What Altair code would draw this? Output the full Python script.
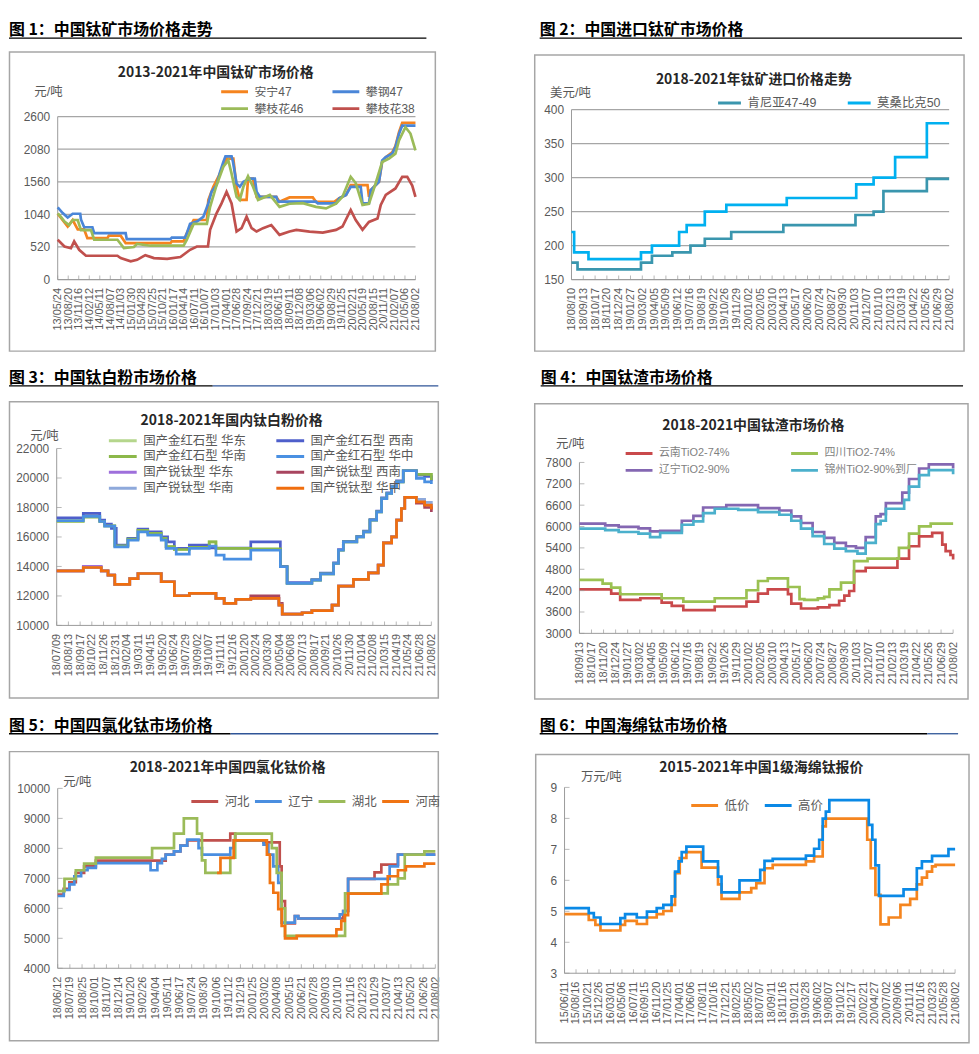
import altair as alt
import pandas as pd

FONT = "Liberation Sans, Noto Sans CJK SC, sans-serif"
HFONT = "Noto Sans CJK SC"
TXT = "#595959"
AX = "#9a9a9a"
BOX = "#a6a6a6"

# ---------------- Panel 1 ----------------
p1_labels = ["13/05/24", "13/08/20", "13/11/16", "14/02/12", "14/05/11", "14/08/07", "14/11/03", "15/01/30",
             "15/04/28", "15/07/25", "15/10/21", "16/01/17", "16/04/14", "16/07/11", "16/10/07", "17/01/03",
             "17/04/01", "17/06/28", "17/09/24", "17/12/21", "18/03/19", "18/06/15", "18/09/11", "18/12/08",
             "19/03/06", "19/06/02", "19/08/29", "19/11/25", "20/02/21", "20/05/19", "20/08/15", "20/11/11",
             "21/02/07", "21/05/06", "21/08/02"]
p1_names = ["安宁47", "攀钢47", "攀枝花46", "攀枝花38"]
p1_colors = ["#F5841F", "#4A86D8", "#9BBB59", "#C0504D"]
p1_anning_x = [0, 2.8, 4.2, 5.6, 7.4, 8.3, 13.9, 14.3, 17.6, 19, 31.5, 31.9, 35.2, 36.1, 38, 41.7, 42.1, 43.5,
               45, 47.2, 49.1, 50, 50.9, 52.8, 53.2, 54.6, 55.6, 61.1, 62, 64.8, 71.3, 72.2, 77.3, 78.7, 80.6,
               81.9, 86.6, 87, 87.5, 89.8, 90.7, 91.7, 93.5, 94.4, 95.4, 96.3, 100]
p1_anning_y = [1050, 845, 950, 800, 800, 660, 660, 700, 700, 580, 580, 610, 610, 740, 950, 950, 1270, 1480,
               1650, 1930, 1930, 1480, 1270, 1270, 1610, 1610, 1320, 1320, 1240, 1310, 1310, 1240, 1240, 1300,
               1350, 1506, 1506, 1320, 1427, 1560, 1880, 1950, 2030, 2130, 2350, 2500, 2500]
p1_pangang_x = [0, 1.4, 2.8, 4.2, 6.3, 6.5, 7.4, 9.7, 10.2, 19, 19.3, 31.5, 31.9, 35.6, 36.1, 37, 38.9, 40.7,
                42.1, 43, 44.4, 45.4, 46.3, 46.9, 48.6, 49, 50, 50.9, 51.9, 53.7, 55.1, 55.6, 56.5, 61.1, 61.6,
                72.2, 72.7, 77.8, 78.7, 80.6, 81.9, 84.7, 85.2, 87, 87.5, 89.8, 90.7, 91.7, 93.5, 94.4, 95.4,
                96.3, 100]
p1_pangang_y = [1150, 1060, 990, 1050, 1050, 960, 835, 835, 740, 740, 645, 645, 670, 670, 740, 888, 925, 1000,
                1215, 1400, 1506, 1717, 1876, 1966, 1966, 1880, 1530, 1480, 1560, 1610, 1610, 1400, 1320, 1320,
                1242, 1242, 1215, 1215, 1295, 1350, 1480, 1480, 1215, 1215, 1427, 1560, 1900, 1955, 2008, 2114,
                2325, 2457, 2457]
p1_pzh46_x = [0, 0.9, 1.9, 3.2, 4.2, 5.6, 6.5, 9.3, 10.2, 16.7, 18.5, 21.3, 22.2, 25.9, 35.2, 36.1, 38, 41.7,
              42.6, 44.4, 46.3, 47.7, 48.6, 50, 50.9, 51.9, 53.2, 54.6, 56, 59.3, 62, 64.8, 68.5, 72.2, 75, 77.8,
              79.6, 81.9, 83.3, 85.2, 87, 88.9, 90.7, 92.6, 94.4, 95.4, 97.2, 98.6, 100]
p1_pzh46_y = [1057, 1000, 925, 870, 950, 950, 790, 790, 635, 635, 502, 520, 570, 540, 540, 635, 888, 888, 1160,
              1506, 1800, 1900, 1690, 1320, 1270, 1480, 1650, 1480, 1270, 1350, 1160, 1210, 1220, 1160, 1136,
              1210, 1320, 1640, 1540, 1190, 1210, 1540, 1876, 1930, 2008, 2220, 2430, 2330, 2060]
p1_pzh38_x = [0, 1.9, 3.7, 4.6, 6, 7.9, 16.7, 17.6, 20.4, 22.2, 24.5, 26.9, 30.6, 34.3, 37, 38.9, 42, 42.6,
              44.4, 45.8, 47.2, 48.6, 50, 51.4, 52.8, 54.2, 55.6, 57.4, 59.7, 62, 64.8, 66.7, 70.4, 74.1, 77.8,
              79.6, 81.9, 83.3, 85.2, 87, 89.4, 90.3, 91.7, 94.4, 96.3, 97.7, 99.1, 100]
p1_pzh38_y = [634, 528, 500, 610, 475, 380, 380, 343, 290, 315, 390, 343, 330, 360, 475, 528, 528, 793, 1057,
              1215, 1400, 1215, 766, 820, 1004, 820, 766, 820, 870, 713, 766, 793, 766, 750, 793, 846, 1110, 950,
              793, 920, 975, 1190, 1350, 1453, 1638, 1638, 1500, 1320]

# ---------------- Panel 2 ----------------
p2_labels = ["18/08/10", "18/09/13", "18/10/17", "18/11/20", "18/12/24", "19/01/27", "19/03/02", "19/04/05",
             "19/05/09", "19/06/12", "19/07/16", "19/08/19", "19/09/22", "19/10/26", "19/11/29", "20/01/02",
             "20/02/05", "20/03/10", "20/04/13", "20/05/17", "20/06/20", "20/07/24", "20/08/27", "20/09/30",
             "20/11/03", "20/12/07", "21/01/10", "21/02/13", "21/03/19", "21/04/22", "21/05/26", "21/06/29",
             "21/08/02"]
p2_names = ["肯尼亚47-49", "莫桑比克50"]
p2_colors = ["#3A96AE", "#00B0F0"]
p2_kenya_x = [0, 1.6, 18.4, 21.3, 26.7, 31.5, 35.3, 42.3, 56.1, 75.2, 80, 82.6, 94.1, 100]
p2_kenya_y = [175, 165, 175, 185, 190, 200, 210, 220, 230, 245, 250, 280, 298, 298]
p2_moz_x = [0, 0.7, 4.5, 18.4, 21.3, 28.5, 30.5, 35.3, 41, 57, 75.4, 80, 85.7, 94.1, 100]
p2_moz_y = [220, 190, 180, 190, 200, 220, 230, 250, 260, 270, 290, 300, 330, 380, 380]

# ---------------- Panel 3 ----------------
p3_labels = ["18/07/09", "18/08/13", "18/09/17", "18/10/22", "18/11/26", "18/12/31", "19/02/04", "19/03/11",
             "19/04/15", "19/05/20", "19/06/24", "19/07/29", "19/09/02", "19/10/07", "19/11/11", "19/12/16",
             "20/01/20", "20/02/24", "20/03/30", "20/05/04", "20/06/08", "20/07/13", "20/08/17", "20/09/21",
             "20/10/26", "20/11/30", "21/01/04", "21/02/08", "21/03/15", "21/04/19", "21/05/24", "21/06/28",
             "21/08/02"]
p3_names = ["国产金红石型 华东", "国产金红石型 西南", "国产金红石型 华南", "国产金红石型 华中",
            "国产锐钛型 华东", "国产锐钛型 西南", "国产锐钛型 华南", "国产锐钛型 华中"]
p3_colors = ["#B5D68C", "#4E5FCB", "#8CB84A", "#4A90E2", "#9E6FDB", "#A8455F", "#8EA9DB", "#F06E0E"]
p3_rut_x = [0, 7.1, 11.5, 12.8, 15.5, 19, 21.7, 24.3, 27.9, 29.2, 31.4, 35.4, 40.7, 42.5, 51.8, 59.7, 61.5,
            68.1, 70.4, 73.9, 75.2, 76.5, 80.1, 81.9, 83.6, 85.4, 86.7, 88.1, 89.4, 90.7, 92.5, 96, 99.3, 100]
p3_rut_huadong_y = [17150, 17450, 17050, 16750, 15400, 15850, 16450, 16250, 15900, 15350, 15150, 15300, 15670,
                    15220, 15150, 13980, 12850, 13070, 13500, 14200, 15100, 15670, 16000, 16350, 17140, 17700,
                    18600, 18950, 19400, 19740, 20490, 20250, 20250, 19850]
p3_rut_huanan_y = [17050, 17350, 17050, 16750, 15400, 15850, 16450, 16250, 15900, 15350, 15150, 15300, 15670,
                   15220, 15200, 13980, 12850, 13070, 13500, 14200, 15100, 15670, 16000, 16350, 17140, 17700,
                   18600, 18950, 19400, 19740, 20490, 20250, 20250, 19850]
p3_rut_xinan_x = [0, 7.1, 11.5, 12.8, 14.6, 15.9, 19, 21.7, 24.3, 27.9, 29.6, 31.4, 35.4, 40.7, 51.8, 59.7,
                  61.5, 68.1, 70.4, 73.9, 75.2, 76.5, 80.1, 81.9, 83.6, 85.4, 86.7, 88.1, 89.4, 90.7, 92.5, 96,
                  98.2, 100]
p3_rut_xinan_y = [17300, 17600, 17140, 16870, 16580, 15450, 15900, 16530, 16350, 16000, 15670, 15220, 15450,
                  15250, 15670, 14000, 12900, 13100, 13550, 14250, 15150, 15700, 16050, 16400, 17180, 17750,
                  18650, 19000, 19450, 19800, 20500, 20200, 20100, 19800]
p3_rut_huazhong_x = [0, 7.1, 11.5, 12.8, 15.5, 19, 21.7, 24.3, 27.9, 29.2, 31.9, 35.4, 40.7, 42.5, 44.7, 51.8,
                     59.7, 61.5, 68.1, 70.4, 73.9, 75.2, 76.5, 80.1, 81.9, 83.6, 85.4, 86.7, 88.1, 89.4, 90.7,
                     92.5, 96, 98.2, 100]
p3_rut_huazhong_y = [17100, 17400, 17050, 16730, 15330, 15780, 16350, 16120, 15780, 15220, 14830, 15220, 15380,
                     14770, 14500, 15100, 13980, 12850, 13070, 13500, 14200, 15100, 15670, 16000, 16350, 17140,
                     17700, 18600, 18950, 19400, 19740, 20490, 19970, 19740, 19600]
p3_ana_x = [0, 7.1, 11.9, 13.7, 15.5, 19.5, 21.7, 27.9, 31.4, 35.4, 42.5, 44.7, 47.8, 51.8, 59.3, 60.2, 65.5,
            68.1, 73.5, 75.2, 79.2, 83.2, 85.8, 87.2, 89.4, 90.7, 92, 92.9, 96, 98.2, 100]
p3_ana_huadong_y = [13700, 14000, 13700, 13410, 12780, 13180, 13520, 12960, 12010, 12170, 11830, 11490, 11760,
                    11830, 11380, 10770, 10860, 11000, 11380, 12670, 13120, 13570, 14090, 15600, 16000, 17140,
                    17930, 18680, 18380, 18160, 17860]
p3_ana_xinan_y = [13700, 13930, 13700, 13410, 12780, 13180, 13520, 12960, 12010, 12170, 11830, 11490, 11760,
                  12000, 11500, 10770, 10860, 11000, 11380, 12670, 13120, 13570, 14090, 15600, 16000, 17140,
                  17930, 18680, 18300, 18000, 17700]
p3_ana_huanan_y = [13700, 13930, 13700, 13410, 12780, 13180, 13520, 12960, 12010, 12170, 11830, 11490, 11760,
                   11830, 11380, 10770, 10860, 11000, 11380, 12670, 13120, 13570, 14090, 15600, 16000, 17140,
                   17930, 18680, 18550, 18350, 18100]
p3_ana_huazhong_y = [13700, 13930, 13700, 13410, 12780, 13180, 13520, 12960, 12010, 12170, 11830, 11490, 11760,
                     11830, 11380, 10770, 10860, 11000, 11380, 12670, 13120, 13570, 14090, 15600, 16000, 17140,
                     17930, 18680, 18380, 18160, 17860]

# ---------------- Panel 4 ----------------
p4_labels = ["18/09/13", "18/10/17", "18/11/20", "18/12/24", "19/01/27", "19/03/02", "19/04/05", "19/05/09",
             "19/06/12", "19/07/16", "19/08/19", "19/09/22", "19/10/26", "19/11/29", "20/01/02", "20/02/05",
             "20/03/10", "20/04/13", "20/05/17", "20/06/20", "20/07/24", "20/08/27", "20/09/30", "20/11/03",
             "20/12/07", "21/01/10", "21/02/13", "21/03/19", "21/04/22", "21/05/26", "21/06/29", "21/08/02"]
p4_names = ["云南TiO2-74%", "四川TiO2-74%", "辽宁TiO2-90%", "锦州TiO2-90%到厂"]
p4_colors = ["#C9494B", "#9BC152", "#8467B2", "#4BB0CC"]
p4_yunnan_x = [0, 8.5, 10.9, 16.3, 22, 24.7, 27.8, 36.2, 44.7, 47.8, 50.4, 55.8, 56.7, 59.3, 63.8, 66.9, 69.5,
               70.9, 72.2, 73.5, 76.6, 85.1, 88.2, 90.9, 94.4, 97.1, 98, 99.3, 100]
p4_yunnan_y = [4237, 4116, 3940, 3986, 3865, 3772, 3650, 3754, 3893, 4116, 4237, 4100, 3837, 3698, 3730, 3795,
               3916, 4060, 4190, 4749, 4842, 5100, 5447, 5726, 5820, 5493, 5307, 5200, 5075]
p4_sichuan_x = [0, 6.2, 8.5, 10.9, 22, 27.8, 36.2, 44.7, 47.8, 50.4, 55.8, 58.9, 60.2, 63.8, 65.5, 66.9, 70,
                73.5, 77.1, 85.5, 88.2, 90.9, 94, 100]
p4_sichuan_y = [4500, 4395, 4283, 4098, 3986, 3893, 3986, 4210, 4470, 4544, 4302, 3960, 3940, 3980, 4023, 4237,
                4423, 5028, 5100, 5400, 5800, 6005, 6080, 6080]
p4_liaoning_x = [0, 6.9, 10.5, 15.8, 18.9, 21.6, 27.4, 30.5, 33.1, 39.3, 47.8, 53.5, 56.7, 59.3, 62.4, 65.5,
                 68.2, 71.3, 74, 76.6, 79.3, 80.6, 82, 86.4, 88.2, 90.9, 93.5, 99.3, 100]
p4_liaoning_y = [6080, 6033, 5990, 5950, 5865, 5880, 6163, 6300, 6535, 6600, 6517, 6450, 6284, 6100, 5847, 5680,
                 5540, 5447, 5400, 5700, 6284, 6350, 6656, 6950, 7335, 7630, 7745, 7745, 7630]
p4_jinzhou_x = [0, 6.9, 10.5, 15.8, 18.9, 21.6, 27.4, 30.5, 33.1, 36.2, 42.5, 47.8, 53.5, 56.7, 59.3, 62.4,
                65.5, 68.2, 71.3, 74.4, 76.6, 79.3, 80.6, 82, 86.9, 88.2, 90.9, 93.5, 99.3, 100]
p4_jinzhou_y = [5940, 5900, 5847, 5800, 5700, 5820, 6050, 6145, 6377, 6500, 6470, 6405, 6330, 6163, 5940, 5730,
                5510, 5380, 5307, 5240, 5540, 6070, 6163, 6500, 6750, 7120, 7446, 7585, 7585, 7465]

# ---------------- Panel 5 ----------------
p5_labels = ["18/06/12", "18/07/19", "18/08/25", "18/10/01", "18/11/07", "18/12/14", "19/01/20", "19/02/26",
             "19/04/04", "19/05/11", "19/06/17", "19/07/24", "19/08/30", "19/10/06", "19/11/12", "19/12/19",
             "20/01/25", "20/03/02", "20/04/08", "20/05/15", "20/06/21", "20/07/28", "20/09/03", "20/10/10",
             "20/11/16", "20/12/23", "21/01/29", "21/03/07", "21/04/13", "21/05/20", "21/06/26", "21/08/02"]
p5_names = ["河北", "辽宁", "湖北", "河南"]
p5_colors = ["#C0504D", "#4A8EE0", "#9BBB59", "#F07413"]
p5_hebei_x = [0, 1.6, 3.1, 4.8, 7, 10.1, 28.6, 30.8, 32.5, 34.3, 45.7, 47, 54.5, 58.8, 59.3, 60.2, 62.8, 63.7,
              75.6, 76.9, 83.9, 85.7, 90.1, 100]
p5_hebei_y = [6460, 6650, 6870, 7180, 7400, 7590, 7790, 7900, 8090, 8265, 8490, 8265, 8200, 7400, 6240, 5500,
              5740, 5660, 5910, 6980, 7200, 7460, 7790, 7790]
p5_liaoning_x = [0, 1.6, 3.1, 4.4, 6.2, 7.9, 10.1, 24.6, 26.4, 27.6, 28.6, 30.8, 32.5, 34.3, 37.3, 38.2, 45.7,
                 46.6, 54.5, 55.8, 57.1, 58.4, 59.3, 62.8, 63.7, 74.7, 75.6, 76.9, 87.9, 90.1, 100]
p5_liaoning_y = [6410, 6610, 6800, 7070, 7270, 7350, 7510, 7270, 7510, 7650, 7790, 7900, 8090, 8290, 8010, 7790,
                 8010, 8265, 8120, 7790, 7400, 6850, 5520, 5740, 5660, 5800, 5910, 6980, 7400, 7790, 7790]
p5_hubei_x = [0, 1.8, 4.8, 7, 10.1, 25, 30.8, 33.4, 36.9, 38.2, 39.1, 45.7, 47, 56.7, 58, 59.3, 60.2, 76.1,
              87.4, 90.1, 91.9, 97.1, 100]
p5_hubei_y = [6575, 6980, 7270, 7490, 7690, 8010, 8490, 9000, 8490, 7600, 7180, 7690, 8490, 8010, 7180, 6000,
              5080, 6500, 6800, 7000, 7790, 7900, 7900]
p5_henan_x = [42.2, 43.1, 46.6, 55.4, 56.2, 57.1, 58.4, 59.3, 60.2, 63.3, 73.8, 75.1, 76, 76.9, 85.7, 87.4,
              90.1, 92.2, 97.1, 100]
p5_henan_y = [7180, 7680, 8265, 7790, 6850, 6520, 5970, 5410, 5000, 5080, 5300, 5580, 5770, 6490, 6800, 7070,
              7270, 7400, 7490, 7490]

# ---------------- Panel 6 ----------------
p6_labels = ["15/06/11", "15/08/16", "15/10/21", "15/12/26", "16/03/01", "16/05/06", "16/07/11", "16/09/15",
             "16/11/20", "17/01/25", "17/04/01", "17/06/06", "17/08/11", "17/10/16", "17/12/21", "18/02/25",
             "18/05/02", "18/07/07", "18/09/11", "18/11/16", "19/01/21", "19/03/28", "19/06/02", "19/08/07",
             "19/10/12", "19/12/17", "20/02/21", "20/04/27", "20/07/02", "20/09/06", "20/11/11", "21/01/16",
             "21/03/23", "21/05/28", "21/08/02"]
p6_names = ["低价", "高价"]
p6_colors = ["#F5851F", "#0A89E6"]
p6_low_x = [0, 6.2, 7.9, 9.2, 14.3, 15.5, 18.5, 21.1, 23.6, 25.3, 27.4, 28.3, 29.5, 31.2, 35.1, 39.3, 40.2,
            44.8, 47.8, 49.1, 51.2, 53.3, 61.8, 63.9, 66.1, 66.9, 77.5, 78.4, 79.6, 80.9, 83, 86, 88.5, 90.2,
            91.5, 92.8, 94.1, 95, 100]
p6_low_y = [4.91, 4.72, 4.56, 4.38, 4.56, 4.69, 4.59, 4.80, 4.91, 5.01, 5.21, 6.23, 6.72, 6.91, 6.41, 5.87,
            5.40, 5.61, 5.75, 5.91, 6.39, 6.50, 6.61, 6.77, 7.74, 7.99, 7.31, 6.39, 5.53, 4.58, 4.80, 5.21, 5.40,
            5.87, 6.09, 6.28, 6.45, 6.50, 6.50]
p6_high_x = [0, 6.2, 7.5, 9.2, 14.3, 15.5, 18.5, 21.1, 23.6, 25.3, 27.4, 28.3, 29.2, 30, 31.2, 35.5, 39.3, 40.2,
             44.8, 50.1, 51.2, 53.3, 61.8, 63.9, 65.2, 66.1, 66.9, 67.8, 77.9, 78.8, 79.6, 80.5, 86.8, 90.2,
             91.5, 94.1, 98.3, 100]
p6_high_y = [5.10, 4.94, 4.80, 4.59, 4.78, 4.91, 4.80, 4.99, 5.10, 5.21, 5.48, 6.28, 6.61, 6.91, 7.09, 6.61,
             6.12, 5.61, 6.00, 6.34, 6.63, 6.69, 6.80, 7.02, 7.31, 7.99, 8.22, 8.59, 7.79, 7.31, 6.48, 5.50, 5.71,
             6.39, 6.61, 6.79, 7.01, 7.01]

# cell sizes (each panel is drawn in a fixed cell; the plot sits inside it)
CW = [433, 440]
RH = [350, 350, 346]

PANELS = [
    dict(cell=(0, 0), plot=(49, 106, 360, 164), labels=p1_labels, names=p1_names, colors=p1_colors,
         interp="linear",
         series=[(p1_anning_x, p1_anning_y), (p1_pangang_x, p1_pangang_y),
                 (p1_pzh46_x, p1_pzh46_y), (p1_pzh38_x, p1_pzh38_y)],
         yticks=[0, 520, 1040, 1560, 2080, 2600], grid=True, yticks_in=False,
         box=(0.5, 41, 429, 342), head=("图 1：中国钛矿市场价格走势", 0, 24),
         ul=[(0, 420, "black")], ul_y=27,
         title=("2013-2021年中国钛矿市场价格", 208, 62), unit=("元/吨", -24, 81),
         leg=dict(x=212, y=75, cols=2, cp=27, rp=5, sym=27, fs=12, lc=TXT)),
    dict(cell=(1, 0), plot=(38, 99, 380, 171), labels=p2_labels, names=p2_names, colors=p2_colors,
         interp="step-after",
         series=[(p2_kenya_x, p2_kenya_y), (p2_moz_x, p2_moz_y)],
         yticks=[150, 200, 250, 300, 350, 400], grid=True, yticks_in=False,
         box=(1, 44, 433, 342), head=("图 2：中国进口钛矿市场价格", 6, 24),
         ul=[(6, 431, "black")], ul_y=27,
         title=("2018-2021年钛矿进口价格走势", 221.5, 69), unit=("美元/吨", -22, 82),
         leg=dict(x=184, y=86, cols=2, cp=29.5, rp=5, sym=23, fs=12.5, lc=TXT)),
    dict(cell=(0, 1), plot=(48, 90, 377, 178), labels=p3_labels, names=p3_names, colors=p3_colors,
         interp="step-after",
         series=[(p3_rut_x, p3_rut_huadong_y), (p3_rut_xinan_x, p3_rut_xinan_y),
                 (p3_rut_x, p3_rut_huanan_y), (p3_rut_huazhong_x, p3_rut_huazhong_y),
                 (p3_ana_x, p3_ana_huadong_y), (p3_ana_x, p3_ana_xinan_y),
                 (p3_ana_x, p3_ana_huanan_y), (p3_ana_x, p3_ana_huazhong_y)],
         yticks=[10000, 12000, 14000, 16000, 18000, 20000, 22000], grid=False, yticks_in=True,
         box=(0.5, 43, 432, 341), head=("图 3：中国钛白粉市场价格", 0, 24),
         ul=[(0, 205, "black"), (205, 432, "#2F5597")], ul_y=27,
         title=("2018-2021年国内钛白粉价格", 224, 62), unit=("元/吨", -27, 77),
         leg=dict(x=99, y=76, cols=2, cp=28.5, rp=3, sym=28, fs=12.5, lc=TXT)),
    dict(cell=(1, 1), plot=(46, 104, 376, 172), labels=p4_labels, names=p4_names, colors=p4_colors,
         interp="step-after",
         series=[(p4_yunnan_x, p4_yunnan_y), (p4_sichuan_x, p4_sichuan_y),
                 (p4_liaoning_x, p4_liaoning_y), (p4_jinzhou_x, p4_jinzhou_y)],
         yticks=[3000, 3600, 4200, 4800, 5400, 6000, 6600, 7200, 7800], grid=False, yticks_in=True,
         box=(1, 45, 437, 342), head=("图 4：中国钛渣市场价格", 7, 24),
         ul=[(7, 432, "black")], ul_y=27,
         title=("2018-2021中国钛渣市场价格", 221, 67), unit=("元/吨", -24, 85),
         leg=dict(x=91, y=89, cols=2, cp=59.5, rp=5, sym=27, fs=11, lc="#7f7f7f")),
    dict(cell=(0, 2), plot=(49, 82, 380, 181), labels=p5_labels, names=p5_names, colors=p5_colors,
         interp="step-after",
         series=[(p5_hebei_x, p5_hebei_y), (p5_liaoning_x, p5_liaoning_y),
                 (p5_hubei_x, p5_hubei_y), (p5_henan_x, p5_henan_y)],
         yticks=[4000, 5000, 6000, 7000, 8000, 9000, 10000], grid=False, yticks_in=True,
         box=(0.5, 45, 432, 336), head=("图 5：中国四氯化钛市场价格", 0, 24),
         ul=[(0, 223, "black"), (223, 432, "#2F5597")], ul_y=27,
         title=("2018-2021年中国四氯化钛价格", 220, 62), unit=("元/吨", 5, 75),
         leg=dict(x=182, y=89, cols=4, cp=3, rp=0, sym=27, fs=12.5, lc=TXT)),
    dict(cell=(1, 2), plot=(31, 81, 393, 187), labels=p6_labels, names=p6_names, colors=p6_colors,
         interp="step-after",
         series=[(p6_low_x, p6_low_y), (p6_high_x, p6_high_y)],
         yticks=[3, 4, 5, 6, 7, 8, 9], grid=False, yticks_in=True,
         box=(2, 48, 438, 338), head=("图 6：中国海绵钛市场价格", 6, 24),
         ul=[(6, 396, "black"), (396, 427, "#2F5597")], ul_y=27,
         title=("2015-2021年中国1级海绵钛报价", 229, 62), unit=("万元/吨", 16, 70),
         leg=dict(x=157, y=93, cols=2, cp=13, rp=0, sym=27, fs=12.5, lc=TXT)),
]


def make_panel(p):
    W = CW[p["cell"][0]]
    H = RH[p["cell"][1]]
    dx, dy, Wr, Hr = p["plot"]
    bottom = dy + Hr
    labels = p["labels"]
    n = len(labels)
    xvals = [i * 100.0 / (n - 1) for i in range(n)]
    arr = "[" + ",".join("'" + s + "'" for s in labels) + "]"
    rows = []
    for name, (xs, ys) in zip(p["names"], p["series"]):
        for xv, yv in zip(xs, ys):
            rows.append({"s": name, "x": xv, "y": yv})
    df = pd.DataFrame(rows)

    # scale domains extended so that the data region maps onto the plot rectangle inside the cell
    xd = [-dx * 100.0 / Wr, (W - dx) * 100.0 / Wr]
    yv = p["yticks"]
    y0, y1 = yv[0], yv[-1]
    per = (y1 - y0) / Hr
    yd = [y0 - (H - bottom) * per, y1 + dy * per]

    x_enc = alt.X("x:Q", scale=alt.Scale(domain=xd, nice=False, zero=False),
                  axis=alt.Axis(values=xvals, labelExpr=f"{arr}[round(datum.value*{n - 1}/100)]",
                                labelAngle=270, labelFontSize=11, labelColor=TXT, labelFont=FONT,
                                labelPadding=8, ticks=False, grid=False, domain=False, offset=-(H - bottom),
                                title=None, labelOverlap=False, labelFlush=False, labelBound=False))
    unit, ux, uy = p["unit"]
    y_enc = alt.Y("y:Q", scale=alt.Scale(domain=yd, nice=False, zero=False),
                  axis=alt.Axis(values=yv, format="d", grid=False, ticks=False, domain=False, offset=-dx,
                                labelFontSize=12, labelColor=TXT, labelFont=FONT, labelPadding=8,
                                title=unit, titleAngle=0, titleX=ux, titleY=uy, titleAlign="left",
                                titleBaseline="middle", titleFont=FONT, titleFontSize=12.5,
                                titleFontWeight="normal", titleColor=TXT))
    lg = p["leg"]
    color = alt.Color("s:N", scale=alt.Scale(domain=p["names"], range=p["colors"]),
                      legend=alt.Legend(orient="none", legendX=lg["x"], legendY=lg["y"], columns=lg["cols"],
                                        direction="horizontal",
                                        title=None, symbolType="stroke", symbolSize=lg["sym"] ** 2,
                                        symbolStrokeWidth=3, labelFont=FONT, labelFontSize=lg["fs"],
                                        labelColor=lg["lc"], columnPadding=lg["cp"], rowPadding=lg["rp"],
                                        clipHeight=12, labelOffset=5, padding=0, labelLimit=300))
    one = pd.DataFrame({"a": [0]})
    bx0, by0, bx1, by1 = p["box"]
    layers = [
        alt.Chart(one).mark_rect(fill="white", fillOpacity=0, stroke=BOX, strokeWidth=1.5).encode(
            x=alt.value(bx0), x2=alt.value(bx1), y=alt.value(by0), y2=alt.value(by1)),
    ]
    htext, hx, hy = p["head"]
    layers.append(alt.Chart(one).mark_text(align="left", baseline="alphabetic", font=HFONT, fontSize=16,
                                           fontWeight="bold", color="black").encode(
        x=alt.value(hx), y=alt.value(hy), text=alt.value(htext)))
    for (ux0, ux1, uc) in p["ul"]:
        layers.append(alt.Chart(one).mark_rule(color=uc, strokeWidth=1.3).encode(
            x=alt.value(ux0), x2=alt.value(ux1), y=alt.value(p["ul_y"])))
    ttext, tx, ty = p["title"]
    layers.append(alt.Chart(one).mark_text(align="center", baseline="middle", font=HFONT, fontSize=14,
                                           fontWeight="bold", color="#262626").encode(
        x=alt.value(tx), y=alt.value(ty), text=alt.value(ttext)))
    if p["grid"]:
        layers.append(alt.Chart(pd.DataFrame({"y": yv})).mark_rule(color=BOX, strokeWidth=1.3).encode(
            y=y_enc, x=alt.value(dx), x2=alt.value(dx + Wr)))
    # axis lines
    layers.append(alt.Chart(one).mark_rule(color=AX, strokeWidth=1).encode(
        x=alt.value(dx), x2=alt.value(dx + Wr), y=alt.value(bottom)))
    layers.append(alt.Chart(one).mark_rule(color=AX, strokeWidth=1).encode(
        x=alt.value(dx), y=alt.value(dy), y2=alt.value(bottom)))
    layers.append(alt.Chart(df).mark_line(strokeWidth=2.7, interpolate=p["interp"]).encode(
        x=x_enc, y=y_enc, color=color))
    layers.append(alt.Chart(pd.DataFrame({"x": xvals})).mark_tick(
        orient="vertical", size=4, thickness=1, color=AX).encode(x=x_enc, y=alt.value(bottom - 2)))
    if p["yticks_in"]:
        layers.append(alt.Chart(pd.DataFrame({"y": yv})).mark_tick(
            orient="horizontal", size=5, thickness=1, color=AX).encode(y=y_enc, x=alt.value(dx + 2.5)))
    return alt.layer(*layers).properties(width=W, height=H)


charts = [make_panel(p) for p in PANELS]
chart = alt.concat(*charts, columns=2, spacing={"row": 0, "column": 95}, bounds="flush", align="each").resolve_scale(
    color="independent", x="independent", y="independent").properties(
    padding={"left": 0, "top": 0, "right": 0, "bottom": 0}, background="white"
).configure_view(stroke=None)

chart.save("out.html", embed_options={"renderer": "svg", "actions": False})
